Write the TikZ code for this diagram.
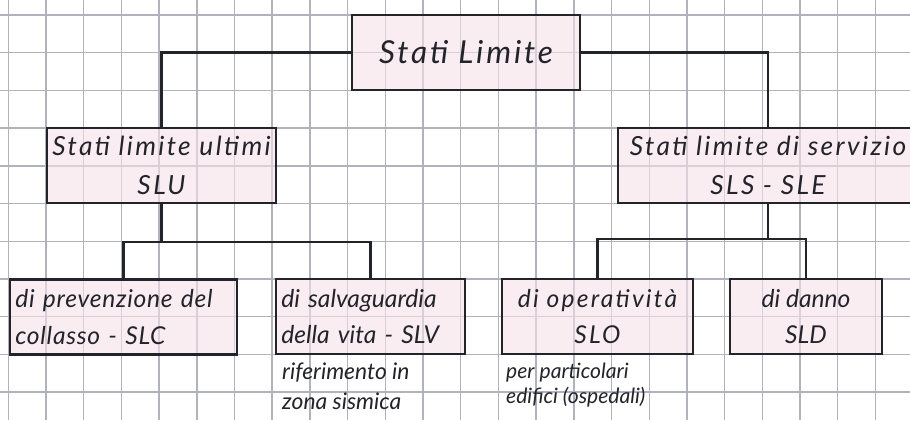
\documentclass[tikz,border=0pt]{standalone}
\usepackage{fontspec}
\setmainfont{Lato}
\newfontfamily\hand{Lato}[LetterSpace=9]
\newfontfamily\handmid{Lato}[LetterSpace=3]
\newfontfamily\handtight{Lato}[LetterSpace=0]
\usepackage{tikz}
\definecolor{ink}{RGB}{35,35,42}
\definecolor{gridgray}{RGB}{178,178,188}
\definecolor{boxpink}{RGB}{246,226,234}

\begin{document}
\begin{tikzpicture}[x=0.02cm, y=-0.02cm, every node/.style={font=\hand\itshape\fontsize{14}{21}\selectfont, text=ink},
	box/.style={draw=ink, line width=1.3pt, fill=boxpink, fill opacity=0.6, text opacity=1, minimum height=1.5cm, inner sep=3pt, align=center},
	link/.style={draw=ink, line width=1.3pt}]
	\useasboundingbox (0,0) rectangle (910,420);
	\clip (0,0) rectangle (910,420);
	\fill[white] (0,0) rectangle (910,420);
	\foreach \i in {0,...,23} {\draw[gridgray, line width=0.8pt] ({8.3+37.7*\i},0) -- ({8.3+37.7*\i},420);}
	\foreach \j in {0,...,10} {\draw[gridgray, line width=0.8pt] (0,{15+37.7*\j}) -- (910,{15+37.7*\j});}
	\node[box, minimum width=4.56cm, font=\hand\itshape\fontsize{18}{21}\selectfont] (root) at (466,52.5) {Stati Limite};
	\node[box, minimum width=4.58cm, font=\hand\itshape\fontsize{15}{22}\selectfont] (slu) at (161.5,165.5) {Stati limite ultimi\\SLU};
	\node[box, minimum width=6cm, font=\hand\itshape\fontsize{15}{22}\selectfont] (sls) at (768,165.5) {Stati limite di servizio\\SLS - SLE};
	\node[box, text width=4.33cm, align=left, font=\handmid\itshape\fontsize{14}{21}\selectfont] (slc) at (123.5,317) {di prevenzione del\\collasso - SLC};
	\node[box, text width=3.57cm, align=left, font=\handtight\itshape\fontsize{14}{21}\selectfont] (slv) at (370.5,316.5) {di salvaguardia\\della vita - SLV};
	\node[box, minimum width=3.82cm] (slo) at (597.5,316.5) {di operatività\\SLO};
	\node[box, minimum width=3.04cm, font=\handtight\itshape\fontsize{14}{21}\selectfont] (sld) at (806,316.5) {di danno\\SLD};
	\node[anchor=north west, align=left, font=\handtight\itshape\fontsize{13}{17}\selectfont] (nslv) at (276,357) {riferimento in\\zona sismica};
	\node[anchor=north west, align=left, font=\handtight\itshape\fontsize{12}{14}\selectfont] (nslo) at (500,357) {per particolari\\edifici (ospedali)};
	\coordinate (jl) at (161.5,242);
	\coordinate (jr) at (768,239);
	\draw[link] (root.west) -| (slu.north);
	\draw[link] (root.east) -| (sls.north);
	\draw[link] (slu.south) -- (jl);
	\draw[link] (slc.north) |- (jl) -| (slv.north);
	\draw[link] (sls.south) -- (jr);
	\draw[link] (slo.north) |- (jr) -| (sld.north);
\end{tikzpicture}
\end{document}
